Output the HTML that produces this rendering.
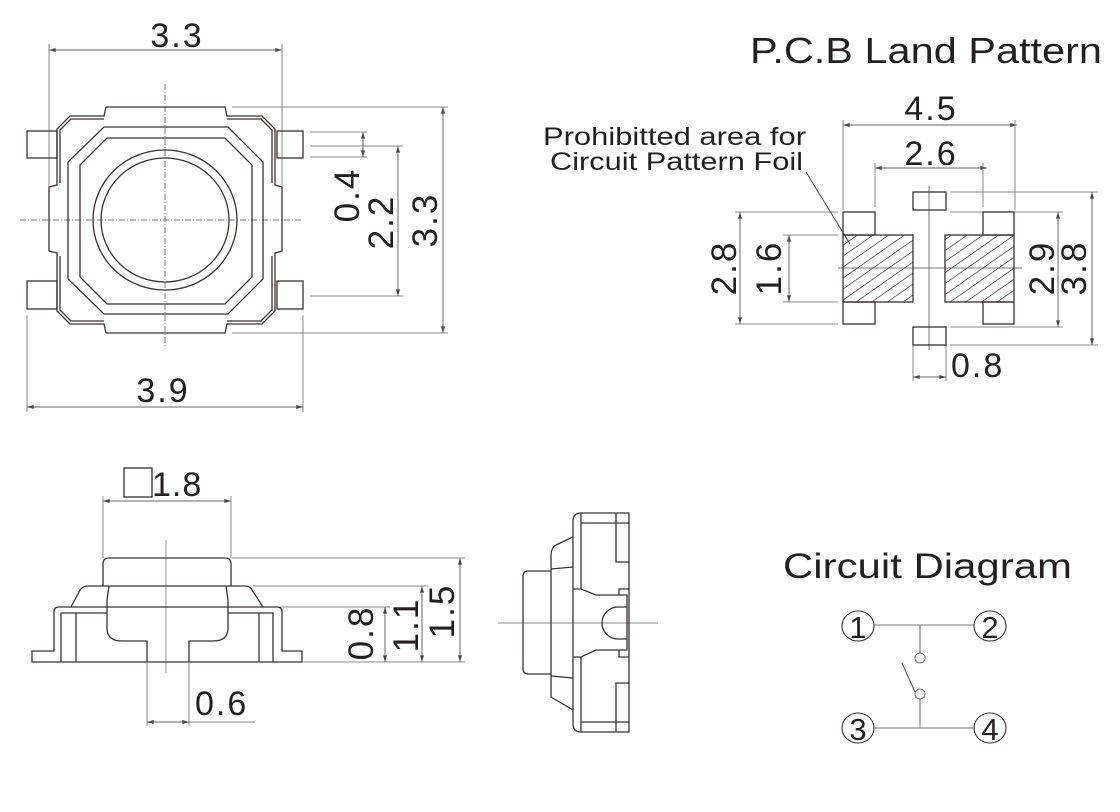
<!DOCTYPE html>
<html><head><meta charset="utf-8"><style>
html,body{margin:0;padding:0;background:#fff;}
svg{display:block;}
text{font-family:"Liberation Sans",Arial,sans-serif;fill:#231f20;}
</style></head><body>
<svg width="1120" height="812" viewBox="0 0 1120 812" xmlns="http://www.w3.org/2000/svg">
<defs>
<marker id="a" viewBox="0 0 10 6" refX="10" refY="3" markerWidth="7" markerHeight="4" orient="auto-start-reverse"><path d="M0,0 L10,3 L0,6 Z" fill="#444"/></marker>
<pattern id="h" width="9" height="9" patternUnits="userSpaceOnUse" patternTransform="rotate(-35)"><line x1="0" y1="0" x2="9" y2="0" stroke="#222" stroke-width="1.3"/></pattern>
</defs>

<!-- ============ TOP LEFT ============ -->
<g fill="none" stroke="#888" stroke-width="1">
<line x1="49" y1="50" x2="282" y2="50" marker-start="url(#a)" marker-end="url(#a)" stroke="#666"/>
<line x1="49" y1="44" x2="49" y2="186"/>
<line x1="282" y1="44" x2="282" y2="186"/>
<line x1="232" y1="107" x2="448" y2="107"/>
<line x1="232" y1="333" x2="448" y2="333"/>
<line x1="443" y1="107" x2="443" y2="333" marker-start="url(#a)" marker-end="url(#a)" stroke="#666"/>
<line x1="310" y1="146" x2="403" y2="146"/>
<line x1="310" y1="296" x2="403" y2="296"/>
<line x1="398" y1="146" x2="398" y2="296" marker-start="url(#a)" marker-end="url(#a)" stroke="#666"/>
<line x1="310" y1="132" x2="367" y2="132"/>
<line x1="310" y1="157" x2="367" y2="157"/>
<line x1="363" y1="132" x2="363" y2="157" marker-start="url(#a)" marker-end="url(#a)" stroke="#666"/>
<line x1="27" y1="315" x2="27" y2="412"/>
<line x1="303" y1="315" x2="303" y2="412"/>
<line x1="27" y1="407" x2="303" y2="407" marker-start="url(#a)" marker-end="url(#a)" stroke="#666"/>
<line x1="20" y1="220" x2="302" y2="220" stroke-dasharray="6,2,1,2" stroke="#777"/>
<line x1="165" y1="84" x2="165" y2="348" stroke-dasharray="6,2,1,2" stroke="#777"/>
</g>
<g fill="none" stroke="#3a3030" stroke-width="1.3">
<path d="M106,107 L225,107 L227,116 L262,116 L275,129 L275,185 L282,187 L282,251 L275,253 L275,311 L262,324 L227,324 L225,333 L106,333 L104,324 L70,324 L57,311 L57,253 L49,251 L49,187 L57,185 L57,129 L70,116 L104,116 Z"/>
<path d="M104,119 L71,119 L60,130 L60,183"/>
<path d="M227,119 L261,119 L272,130 L272,183"/>
<path d="M104,321 L71,321 L60,310 L60,256"/>
<path d="M227,321 L261,321 L272,310 L272,256"/>
<rect x="27" y="131" width="30" height="27"/>
<rect x="27" y="281" width="30" height="28"/>
<rect x="277" y="131" width="26" height="27"/>
<rect x="277" y="281" width="26" height="28"/>
<path d="M104,127 L228,127 L263,162 L263,279 L228,314 L104,314 L68,279 L68,162 Z"/>
<path d="M107,138 L225,138 L252,165 L252,277 L225,304 L107,304 L80,277 L80,165 Z"/>
<ellipse cx="165" cy="220" rx="72" ry="70"/>
<ellipse cx="165" cy="220" rx="64" ry="62"/>
</g>
<text x="177" y="47" font-size="34" text-anchor="middle" letter-spacing="2">3.3</text>
<text x="163" y="402" font-size="34" text-anchor="middle" letter-spacing="2">3.9</text>
<text transform="translate(359,195) rotate(-90)" font-size="35" text-anchor="middle" letter-spacing="2">0.4</text>
<text transform="translate(393,222) rotate(-90)" font-size="35" text-anchor="middle" letter-spacing="2">2.2</text>
<text transform="translate(437,220) rotate(-90)" font-size="35" text-anchor="middle" letter-spacing="2">3.3</text>

<!-- ============ TOP RIGHT ============ -->
<text x="750" y="63" font-size="36" textLength="352" lengthAdjust="spacingAndGlyphs">P.C.B Land Pattern</text>
<text x="543" y="145" font-size="25" textLength="263" lengthAdjust="spacingAndGlyphs">Prohibitted area for</text>
<text x="550" y="170" font-size="25" textLength="253" lengthAdjust="spacingAndGlyphs">Circuit Pattern Foil</text>
<text x="931" y="120" font-size="34" text-anchor="middle" letter-spacing="2">4.5</text>
<text x="931" y="165" font-size="34" text-anchor="middle" letter-spacing="2">2.6</text>
<text x="951" y="377" font-size="34" letter-spacing="2">0.8</text>
<text transform="translate(736,268) rotate(-90)" font-size="35" text-anchor="middle" letter-spacing="2">2.8</text>
<text transform="translate(781,268) rotate(-90)" font-size="35" text-anchor="middle" letter-spacing="2">1.6</text>
<text transform="translate(1054,268) rotate(-90)" font-size="35" text-anchor="middle" letter-spacing="2">2.9</text>
<text transform="translate(1086,268) rotate(-90)" font-size="35" text-anchor="middle" letter-spacing="2">3.8</text>
<g fill="none" stroke="#888" stroke-width="1">
<line x1="843" y1="125" x2="1017" y2="125" marker-start="url(#a)" marker-end="url(#a)" stroke="#666"/>
<line x1="843" y1="120" x2="843" y2="210"/>
<line x1="1015" y1="120" x2="1015" y2="210"/>
<line x1="875" y1="168" x2="987" y2="168" marker-start="url(#a)" marker-end="url(#a)" stroke="#666"/>
<line x1="875" y1="163" x2="875" y2="207"/>
<line x1="983" y1="163" x2="983" y2="207"/>
<line x1="735" y1="212" x2="838" y2="212"/>
<line x1="735" y1="324" x2="838" y2="324"/>
<line x1="740" y1="212" x2="740" y2="324" marker-start="url(#a)" marker-end="url(#a)" stroke="#666"/>
<line x1="783" y1="235" x2="838" y2="235"/>
<line x1="783" y1="302" x2="838" y2="302"/>
<line x1="789" y1="235" x2="789" y2="302" marker-start="url(#a)" marker-end="url(#a)" stroke="#666"/>
<line x1="950" y1="212" x2="1063" y2="212"/>
<line x1="950" y1="327" x2="1063" y2="327"/>
<line x1="1058" y1="212" x2="1058" y2="327" marker-start="url(#a)" marker-end="url(#a)" stroke="#666"/>
<line x1="950" y1="192" x2="1098" y2="192"/>
<line x1="950" y1="345" x2="1098" y2="345"/>
<line x1="1092" y1="192" x2="1092" y2="345" marker-start="url(#a)" marker-end="url(#a)" stroke="#666"/>
<line x1="913" y1="345" x2="913" y2="381"/>
<line x1="946" y1="345" x2="946" y2="381"/>
<line x1="913" y1="377" x2="946" y2="377" marker-start="url(#a)" marker-end="url(#a)" stroke="#666"/>
<line x1="929" y1="186" x2="929" y2="350" stroke="#777"/>
<line x1="838" y1="268" x2="1022" y2="268" stroke="#777"/>
<line x1="806" y1="172" x2="850" y2="244" stroke="#444"/>
</g>
<g stroke="#3a3030" stroke-width="1.3">
<rect x="843" y="235" width="70" height="67" fill="url(#h)"/>
<rect x="945" y="235" width="69" height="67" fill="url(#h)"/>
<g fill="none">
<rect x="843" y="212" width="32" height="23"/>
<rect x="843" y="302" width="32" height="22"/>
<rect x="983" y="212" width="31" height="23"/>
<rect x="983" y="302" width="31" height="22"/>
<rect x="913" y="192" width="33" height="18"/>
<rect x="913" y="327" width="33" height="18"/>
</g>
</g>

<!-- ============ BOTTOM LEFT ============ -->
<rect x="124" y="468" width="28" height="29" fill="none" stroke="#3a3030" stroke-width="1.3"/>
<text x="152" y="496" font-size="34" letter-spacing="1">1.8</text>
<text x="195" y="715" font-size="34" letter-spacing="2">0.6</text>
<text transform="translate(373,633) rotate(-90)" font-size="35" text-anchor="middle" letter-spacing="2">0.8</text>
<text transform="translate(418,625) rotate(-90)" font-size="35" text-anchor="middle" letter-spacing="2">1.1</text>
<text transform="translate(454,611) rotate(-90)" font-size="35" text-anchor="middle" letter-spacing="2">1.5</text>
<g fill="none" stroke="#888" stroke-width="1">
<line x1="103" y1="501" x2="231" y2="501" marker-start="url(#a)" marker-end="url(#a)" stroke="#666"/>
<line x1="103" y1="496" x2="103" y2="558"/>
<line x1="231" y1="496" x2="231" y2="558"/>
<line x1="232" y1="558" x2="465" y2="558"/>
<line x1="253" y1="586" x2="428" y2="586"/>
<line x1="265" y1="607" x2="390" y2="607"/>
<line x1="303" y1="662" x2="465" y2="662"/>
<line x1="460" y1="558" x2="460" y2="662" marker-start="url(#a)" marker-end="url(#a)" stroke="#666"/>
<line x1="422" y1="586" x2="422" y2="662" marker-start="url(#a)" marker-end="url(#a)" stroke="#666"/>
<line x1="385" y1="607" x2="385" y2="662" marker-start="url(#a)" marker-end="url(#a)" stroke="#666"/>
<line x1="147" y1="662" x2="147" y2="726"/>
<line x1="189" y1="662" x2="189" y2="726"/>
<line x1="147" y1="722" x2="189" y2="722" marker-start="url(#a)" marker-end="url(#a)" stroke="#666"/>
<line x1="189" y1="722" x2="255" y2="722"/>
<line x1="166" y1="540" x2="166" y2="673" stroke="#999"/>
</g>
<g fill="none" stroke="#3a3030" stroke-width="1.3">
<path d="M103,586 L103,564 Q103,558 109,558 L225,558 Q231,558 231,564 L231,586"/>
<path d="M71,607 L80,590 Q83,586 88,586 L245,586 Q250,586 252,590 L263,607"/>
<path d="M32,662 L32,651 L54,651 L54,612 Q54,607 59,607 L277,607 Q282,607 282,612 L282,651 L302,651 L302,662 Z"/>
<path d="M61,662 L61,613 L107,613"/>
<path d="M228,613 L273,613 L273,662"/>
<line x1="76" y1="613" x2="76" y2="662"/>
<line x1="259" y1="613" x2="259" y2="662"/>
<path d="M109,586 L107,600 L107,628 Q107,641 122,641 L147,641 L147,662"/>
<path d="M226,586 L228,600 L228,628 Q228,641 213,641 L189,641 L189,662"/>
</g>

<!-- ============ SIDE VIEW ============ -->
<line x1="498" y1="623" x2="658" y2="623" stroke="#888" stroke-width="1"/>
<g fill="none" stroke="#3a3030" stroke-width="1.3">
<path d="M629,513 L581,513 Q573,513 573,521 L573,724 Q573,732 581,732 L629,732 Z"/>
<line x1="581" y1="513" x2="581" y2="589"/>
<line x1="581" y1="657" x2="581" y2="732"/>
<line x1="581" y1="523" x2="629" y2="523"/>
<line x1="581" y1="722" x2="629" y2="722"/>
<line x1="616" y1="513" x2="616" y2="523"/>
<line x1="616" y1="722" x2="616" y2="732"/>
<path d="M616,523 L616,562 L629,562"/>
<path d="M616,722 L616,683 L629,683"/>
<path d="M573,589 L581,589 L596,595 L627,595 L627,650 L596,650 L581,657 L573,657"/>
<path d="M619,595 L619,589 L629,589"/>
<path d="M619,650 L619,657 L629,657"/>
<path d="M627,607 L618,607 A16,16 0 0 0 618,639 L627,639"/>
<path d="M573,537 L556,545 Q551,548 551,555 L551,697 L573,710"/>
<line x1="551" y1="569" x2="573" y2="567"/>
<line x1="551" y1="676" x2="573" y2="678"/>
<path d="M551,571 L528,571 Q523,571 523,577 L523,668 Q523,674 528,674 L551,674"/>
</g>

<!-- ============ CIRCUIT ============ -->
<text x="783" y="578" font-size="35" textLength="289" lengthAdjust="spacingAndGlyphs">Circuit Diagram</text>
<g fill="none" stroke="#3a3030" stroke-width="1.1">
<ellipse cx="858" cy="626" rx="16" ry="15"/>
<ellipse cx="990" cy="626" rx="16" ry="15"/>
<ellipse cx="858" cy="728" rx="16" ry="15"/>
<ellipse cx="990" cy="728" rx="16" ry="15"/>
</g>
<g fill="none" stroke="#777" stroke-width="1.1">
<line x1="874" y1="625" x2="974" y2="625"/>
<line x1="920" y1="625" x2="920" y2="653"/>
<circle cx="920" cy="658" r="5"/>
<circle cx="920" cy="694" r="5"/>
<line x1="920" y1="699" x2="920" y2="728"/>
<line x1="874" y1="728" x2="974" y2="728"/>
<line x1="902" y1="663" x2="915" y2="692" stroke="#555"/>
</g>
<text x="858" y="638" font-size="31" text-anchor="middle">1</text>
<text x="990" y="638" font-size="31" text-anchor="middle">2</text>
<text x="858" y="740" font-size="31" text-anchor="middle">3</text>
<text x="990" y="740" font-size="31" text-anchor="middle">4</text>
</svg>
</body></html>
